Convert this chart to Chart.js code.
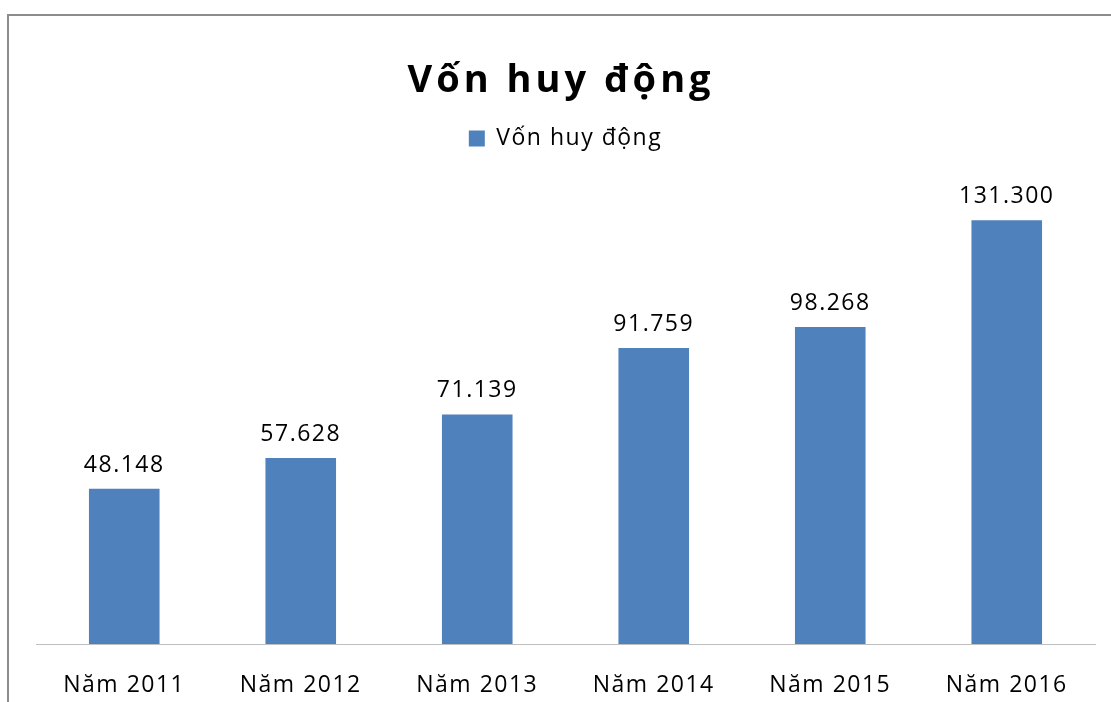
<!DOCTYPE html>
<html>
<head>
<meta charset="utf-8">
<script src="https://cdn.jsdelivr.net/npm/chart.js@4"></script>
<style>
  body { margin: 0; background: #fff; }
  canvas { display: block; }
</style>
</head>
<body>
<canvas id="chart" width="1111" height="702"></canvas>
<script>
// du lieu bieu do
var years = ["Năm 2011", "Năm 2012", "Năm 2013", "Năm 2014", "Năm 2015", "Năm 2016"];
var vonHuyDong = [48.148, 57.628, 71.139, 91.759, 98.268, 131.300];
var chartTitle = "Vốn huy động";
var seriesName = "Vốn huy động";

var FONT = "'Open Sans', sans-serif";

// khung vien, tieu de va nhan so lieu
var decor = {
  id: 'decor',
  beforeLayout: function (chart) {
    chart.ctx.letterSpacing = '1.5px';
  },
  beforeDraw: function (chart) {
    var ctx = chart.ctx;
    ctx.save();
    ctx.fillStyle = '#fff';
    ctx.fillRect(0, 0, chart.width, chart.height);
    ctx.strokeStyle = '#8c8c8c';
    ctx.lineWidth = 2;
    ctx.strokeRect(8, 15, 1300, 900);
    ctx.letterSpacing = '4px';
    ctx.fillStyle = '#000';
    ctx.font = 'bold 38px ' + FONT;
    ctx.textAlign = 'center';
    ctx.textBaseline = 'alphabetic';
    ctx.fillText(chartTitle, 561, 92);
    ctx.restore();
    ctx.letterSpacing = '1.5px';
  },
  afterDatasetsDraw: function (chart) {
    var ctx = chart.ctx;
    var meta = chart.getDatasetMeta(0);
    ctx.save();
    ctx.letterSpacing = '1.5px';
    ctx.fillStyle = '#000';
    ctx.font = '23px ' + FONT;
    ctx.textAlign = 'center';
    ctx.textBaseline = 'alphabetic';
    meta.data.forEach(function (bar, i) {
      ctx.fillText(vonHuyDong[i].toFixed(3), bar.x, bar.y - 17);
    });
    ctx.restore();
  }
};

var mychart = document.getElementById('chart').getContext('2d');

var chart = new Chart(mychart, {
  type: 'bar',
  data: {
    labels: years,
    datasets: [{
      label: seriesName,
      data: vonHuyDong,
      backgroundColor: '#4F81BD',
      categoryPercentage: 1,
      barPercentage: 0.4
    }]
  },
  options: {
    responsive: false,
    animation: false,
    layout: { padding: { top: 117, left: 36, right: 16, bottom: 5 } },
    plugins: {
      title: { display: false },
      tooltip: { enabled: false },
      legend: {
        position: 'top',
        labels: {
          color: '#000',
          font: { family: FONT, size: 23 },
          boxWidth: 16,
          boxHeight: 16,
          padding: 10
        }
      }
    },
    scales: {
      x: {
        grid: { display: false },
        border: { display: true, color: '#bfbfbf', width: 1 },
        ticks: { color: '#000', font: { family: FONT, size: 23 }, padding: 20 },
        afterFit: function (scale) { scale.height = 53; }
      },
      y: {
        display: false,
        min: 0,
        max: 150
      }
    }
  },
  plugins: [decor]
});
</script>
</body>
</html>
